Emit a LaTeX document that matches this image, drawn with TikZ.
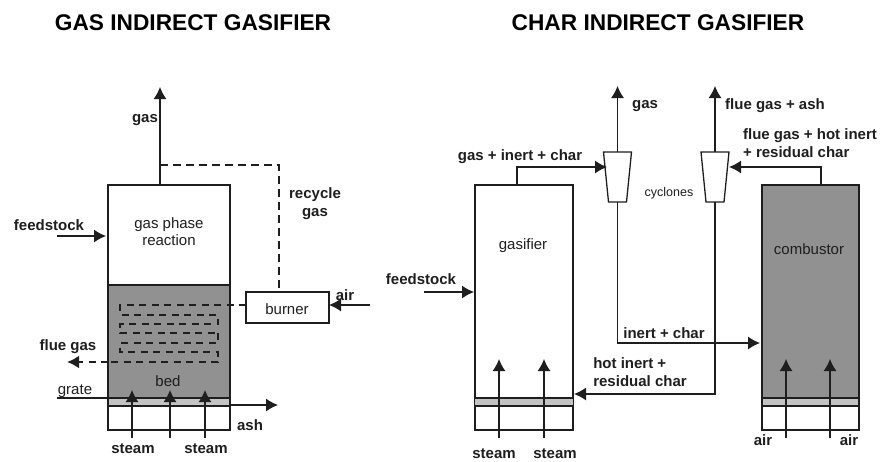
\documentclass[tikz,border=0pt]{standalone}
\usepackage{fontspec}
\setmainfont{Liberation Sans}
\usepackage{tikz}
\usetikzlibrary{arrows.meta}
\definecolor{bedgray}{RGB}{145,145,145}
\definecolor{grategray}{RGB}{195,195,195}
\definecolor{inkgray}{RGB}{30,30,30}

\begin{document}
\begin{tikzpicture}[x=1pt,y=-1pt,
  vessel/.style={draw=inkgray, line width=1.3pt, inner sep=0pt, outer sep=0pt},
  a/.style={-{Latex[length=12pt,width=13pt]}, line width=1.2pt, draw=inkgray},
  rec/.style={dash pattern=on 8pt off 5pt, draw=inkgray},
  coil/.style={dash pattern=on 7pt off 5.5pt, draw=inkgray},
  bl/.style={font=\bfseries\fontsize{15}{18}\selectfont, text=inkgray, align=left, inner sep=0pt},
  pl/.style={font=\fontsize{15}{17}\selectfont, text=inkgray, align=center, inner sep=0pt},
  ttl/.style={font=\bfseries\fontsize{22.7}{25}\selectfont, text=black, inner sep=0pt}]
\useasboundingbox (0,0) rectangle (880,461);
\node[ttl] (titleL) at (193,22.5) {GAS INDIRECT GASIFIER};
\node[ttl] (titleR) at (658,22.5) {CHAR INDIRECT GASIFIER};

% left gasifier
\fill[bedgray] (108,285) rectangle (230,398);
\fill[grategray] (108,398) rectangle (230,406);
\node[vessel, minimum width=122pt, minimum height=245pt] (gasL) at (169,307.5) {};
\draw[vessel] (108,285) -- (230,285);
\draw[vessel] (108,406) -- (230,406);
\node[vessel, minimum width=83pt, minimum height=31pt] (burner) at (287.5,307.5) {};
\node[pl] (burnerT) at (287,309) {burner};
\node[pl] (reactT) at (169,232) {gas phase\\reaction};
\node[pl] (bedT) at (168,381) {bed};
\node[pl] (grateT) at (75,391) {grate};

\coordinate (gasLtop) at (160,185);
\coordinate (gasLend) at (160,87);
\coordinate (recA) at (160,165);
\coordinate (recB) at (279,165);
\coordinate (recC) at (279,292);
\draw[a] (gasLtop) -- (gasLend);
\draw[vessel, rec] (recA) -- (recB) -- (recC);

\coordinate (feedA) at (57,236);
\coordinate (airA) at (370,305);
\draw[a] (feedA) -- (106,236);
\draw[a] (airA) -- (burner.east |- airA);
\draw[vessel] (57,398) -- (230,398);
\draw[a] (229,405) -- (278,405);

% flue gas coil
\draw[coil, line width=1.4pt] (burner.west |- 0,305) -- (120,305) -- (120,315) -- (218,315) -- (218,324) -- (120,324) -- (120,333) -- (218,333);
\draw[coil, line width=2.8pt] (218,333) -- (218,343) -- (120,343) -- (120,352) -- (218,352) -- (218,362) -- (108,362);
\draw[-{Latex[length=12pt,width=13pt]}, coil, line width=2.8pt] (108,362) -- (67,362);

\foreach \i/\x in {1/132,2/170,3/205}{
  \draw[a] (\x,438) -- (\x,390);
}
\node[bl] (feedT) at (49,225) {feedstock};
\node[bl] (gasT) at (145,120) {gas};
\node[bl, align=center] (recT) at (315,204) {recycle\\gas};
\node[bl] (airT) at (345,295) {air};
\node[bl] (flueT) at (68,347) {flue gas};
\node[bl] (ashT) at (250,425) {ash};
\node[bl] (steamA) at (133,449) {steam};
\node[bl] (steamB) at (206,449) {steam};

% right gasifier
\node[vessel, minimum width=98pt, minimum height=245pt] (gasifier) at (524,307.5) {};
\fill[grategray] (475,398) rectangle (573,406);
\draw[vessel] (475,398) -- (573,398) (475,406) -- (573,406);
\fill[bedgray] (762,185) rectangle (859,398);
\fill[grategray] (762,398) rectangle (859,406);
\node[vessel, minimum width=97pt, minimum height=245pt] (combustor) at (810.5,307.5) {};
\draw[vessel] (762,398) -- (859,398) (762,406) -- (859,406);

% cyclones
\foreach \n/\x in {cycA/617.5,cycB/715}{
  \draw[vessel] (\x-14,152) -- (\x+14,152) -- (\x+9,202) -- (\x-9,202) -- cycle;
  \coordinate (\n top) at (\x,152);
  \coordinate (\n bot) at (\x,202);
}
\coordinate (cycAin) at (607,167);
\coordinate (cycBin) at (729,167);
\node[pl] (gasifierT) at (523,246) {gasifier};
\node[pl] (combustorT) at (809,249) {combustor};
\node[pl, font=\fontsize{12.5}{14}\selectfont] (cycT) at (669,193) {cyclones};

\draw[a] (cycAtop) -- (617.5,86);
\draw[a] (cycBtop) -- (715,86);
\draw[a] (517,185) -- (517,167) -- (cycAin);
\draw[a] (821,185) -- (821,167) -- (cycBin);
\draw[a] (cycAbot) -- (617.5,343) -- (760,343);
\draw[a] (cycBbot) -- (715,394) -- (574,394);
\coordinate (feedB) at (424,292);
\draw[a] (feedB) -- (474,292);

\foreach \i/\x in {1/499,2/544,3/786,4/830}{
  \draw[a] (\x,438) -- (\x,359);
}
\node[bl] (gasB) at (645,106) {gas};
\node[bl] (flueB) at (775,106) {flue gas + ash};
\node[bl] (flueC) at (810,143) {flue gas + hot inert\\+ residual char};
\node[bl] (mixT) at (520,157) {gas + inert + char};
\node[bl] (feedR) at (421,279) {feedstock};
\node[bl] (inertT) at (664,333) {inert + char};
\node[bl] (hotT) at (640,372) {hot inert +\\residual char};
\node[bl] (steamC) at (494,454) {steam};
\node[bl] (steamD) at (555,454) {steam};
\node[bl] (airB) at (763,440) {air};
\node[bl] (airC) at (849,440) {air};
\end{tikzpicture}
\end{document}
